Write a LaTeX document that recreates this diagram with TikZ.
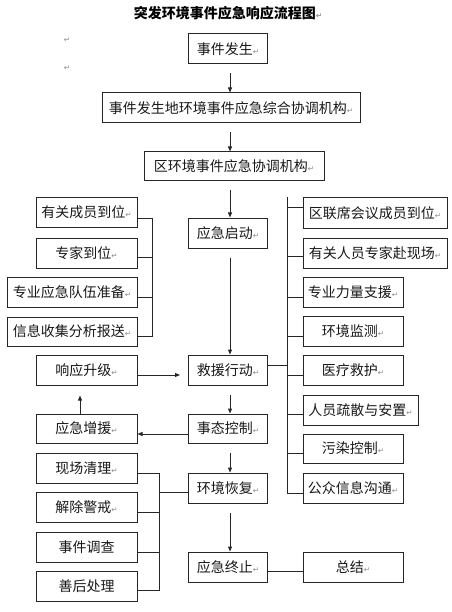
\documentclass[tikz,border=0pt]{standalone}
\usepackage{fontspec}
\newfontfamily\cjk{Noto Sans CJK SC}
\newfontfamily\dvs{DejaVu Sans}
\usetikzlibrary{arrows.meta,calc}
\newcommand{\pmk}{{\dvs\fontsize{7.5pt}{7.5pt}\selectfont\color{black!45}↵}}
\tikzset{
  box/.style={draw=black!85, line width=1pt, minimum height=30pt, inner sep=0pt,
    font=\cjk\fontsize{14pt}{14pt}\selectfont, text=black!90},
  ln/.style={line width=1pt, draw=black!85},
  arr/.style={ln, -{Triangle[length=5pt,width=4pt]}},
}
\begin{document}
\begin{tikzpicture}[x=1pt,y=-1pt]
\useasboundingbox[fill=white] (0,0) rectangle (451,612);
% title and stray marks
\node[font=\cjk\bfseries\fontsize{14pt}{14pt}\selectfont, inner sep=0pt] (title) at (228,13) {突发环境事件应急响应流程图\pmk};
\node[inner sep=0pt] (pm1) at (67,40) {\pmk};
\node[inner sep=0pt] (pm2) at (67,68) {\pmk};
% main column
\node[box, minimum width=79pt] (n1) at (228,49) {事件发生\pmk};
\node[box, minimum width=258pt] (n2) at (231,108) {事件发生地环境事件应急综合协调机构\pmk};
\node[box, minimum width=180pt, minimum height=29pt] (n3) at (234,166.5) {区环境事件应急协调机构\pmk};
\node[box, minimum width=79pt] (S) at (228,233) {应急启动\pmk};
\node[box, minimum width=79pt] (J) at (228,370) {救援行动\pmk};
\node[box, minimum width=79pt, minimum height=29pt] (K) at (228,428.5) {事态控制\pmk};
\node[box, minimum width=79pt] (H) at (228,488) {环境恢复\pmk};
\node[box, minimum width=79pt] (E) at (228,567) {应急终止\pmk};
% left upper group
\node[box, minimum width=101pt, minimum height=29pt] (L1) at (86.5,212.5) {有关成员到位\pmk};
\node[box, minimum width=101pt] (L2) at (86.5,253) {专家到位\pmk};
\node[box, minimum width=130pt] (L3) at (72,292) {专业应急队伍准备\pmk};
\node[box, minimum width=130pt, minimum height=29pt] (L4) at (72,331.5) {信息收集分析报送\pmk};
% left middle
\node[box, minimum width=101pt] (X) at (86.5,370) {响应升级\pmk};
\node[box, minimum width=101pt, minimum height=29pt] (Z) at (86.5,428.5) {应急增援\pmk};
% left lower group
\node[box, minimum width=101pt] (M1) at (86.5,468) {现场清理\pmk};
\node[box, minimum width=101pt] (M2) at (86.5,507) {解除警戒\pmk};
\node[box, minimum width=101pt] (M3) at (86.5,547) {事件调查};
\node[box, minimum width=101pt] (M4) at (86.5,586) {善后处理};
% right group
\node[box, minimum width=144pt] (R1) at (375,213) {区联席会议成员到位\pmk};
\node[box, minimum width=144pt] (R2) at (375,253) {有关人员专家赴现场\pmk};
\node[box, minimum width=100pt] (R3) at (353,292) {专业力量支援\pmk};
\node[box, minimum width=100pt] (R4) at (353,331) {环境监测\pmk};
\node[box, minimum width=100pt] (R5) at (353,370) {医疗救护\pmk};
\node[box, minimum width=115pt] (R6) at (360.5,410) {人员疏散与安置\pmk};
\node[box, minimum width=100pt, minimum height=29pt] (R7) at (353,448.5) {污染控制\pmk};
\node[box, minimum width=100pt] (R8) at (353,488) {公众信息沟通\pmk};
\node[box, minimum width=100pt] (T) at (353,567) {总结\pmk};
% helper columns
\coordinate (col) at (230,0);
\coordinate (lb) at (152,0);
\coordinate (rb) at (287.5,0);
\coordinate (lb2) at (159,0);
% main arrows
\draw[arr, shorten <=9pt] (col |- n1.south) -- (col |- n2.north);
\draw[arr, shorten <=9pt] (col |- n2.south) -- (col |- n3.north);
\draw[arr, shorten <=9pt] (col |- n3.south) -- (col |- S.north);
\draw[arr, shorten <=9pt] (col |- S.south) -- (col |- J.north);
\draw[arr, shorten <=9pt] (col |- J.south) -- (col |- K.north);
\draw[arr, shorten <=9pt] (col |- K.south) -- (col |- H.north);
\draw[arr, shorten <=9pt] (col |- H.south) -- (col |- E.north);
% left upper bracket
\coordinate (l1) at ($(L1.east)+(0,5.5)$);
\coordinate (l2) at ($(L2.east)+(0,4)$);
\coordinate (l3) at ($(L3.east)+(0,5)$);
\coordinate (l4) at ($(L4.east)+(0,4.5)$);
\draw[ln] (l1) -- (l1 -| lb) -- (l4 -| lb) -- (l4);
\draw[ln] (l2) -- (l2 -| lb);
\draw[ln] (l3) -- (l3 -| lb);
% right bracket
\coordinate (r1) at ($(R1.west)+(0,-5)$);
\coordinate (r2) at ($(R2.west)+(0,3)$);
\coordinate (r3) at ($(R3.west)+(0,5)$);
\coordinate (r4) at ($(R4.west)+(0,5)$);
\coordinate (r5) at ($(R5.west)+(0,5)$);
\coordinate (r6) at ($(R6.west)+(0,4)$);
\coordinate (r7) at ($(R7.west)+(0,4.5)$);
\coordinate (r8) at ($(R8.west)+(0,5)$);
\draw[ln] (rb |- R1.north) -- (r8 -| rb) -- (r8);
\foreach \r in {r1,r2,r3,r4,r5,r6,r7} \draw[ln] (\r) -- (\r -| rb);
\coordinate (ja) at ($(J.east)+(0,-5)$);
\draw[ln] (ja) -- (ja -| rb);
% escalation loop
\coordinate (xa) at ($(X.east)+(0,5)$);
\draw[arr, shorten >=8pt] (xa) -- (xa -| J.west);
\coordinate (ka) at ($(K.west)+(0,5.5)$);
\draw[arr] (ka) -- (ka -| Z.east);
\coordinate (za) at ($(Z.north)+(-6.5,0)$);
\draw[arr, shorten >=10pt] (za) -- (za |- X.south);
% left lower bracket
\coordinate (m1) at ($(M1.east)+(0,5)$);
\coordinate (m2) at ($(M2.east)+(0,5)$);
\coordinate (m3) at ($(M3.east)+(0,5)$);
\coordinate (m4) at ($(M4.east)+(0,4)$);
\draw[ln] (m1) -- (m1 -| lb2) -- (m4 -| lb2) -- (m4);
\draw[ln] (m2) -- (m2 -| lb2);
\draw[ln] (m3) -- (m3 -| lb2);
\coordinate (ha) at ($(H.west)+(0,4.5)$);
\draw[ln] (ha) -- (ha -| lb2);
% end
\coordinate (ea) at ($(E.east)+(0,4)$);
\draw[ln] (ea) -- (ea -| T.west);
\end{tikzpicture}
\end{document}
